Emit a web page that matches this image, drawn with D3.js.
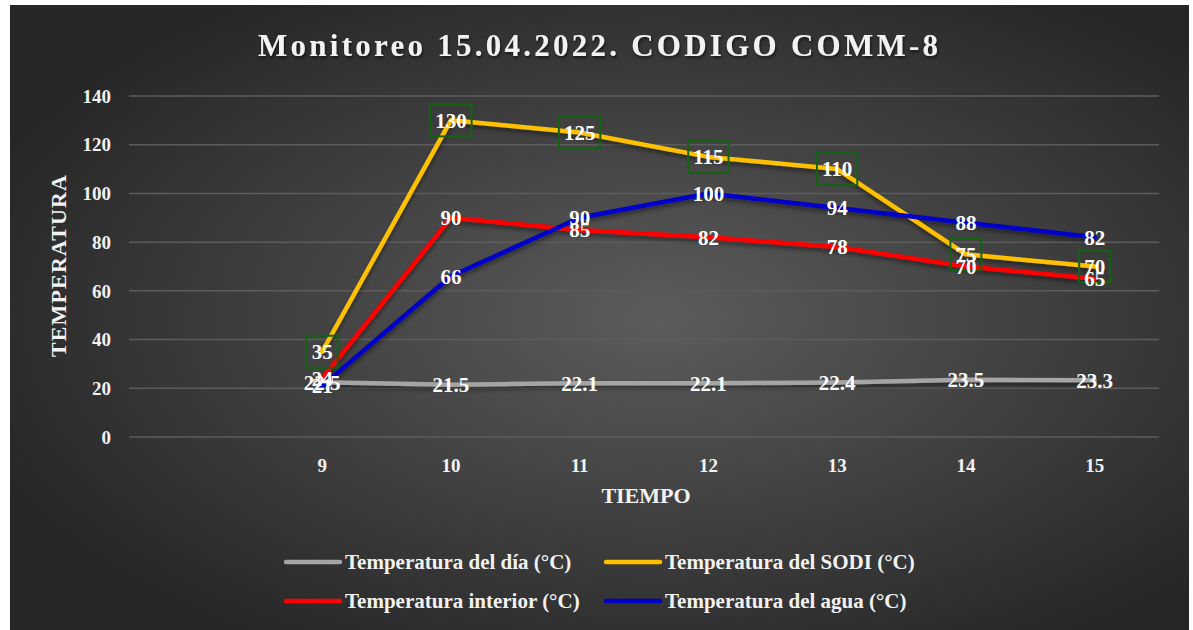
<!DOCTYPE html>
<html>
<head>
<meta charset="utf-8">
<script src="https://cdn.jsdelivr.net/npm/d3@7"></script>
<style>
  html, body { margin: 0; padding: 0; background: #fff; }
  svg text { font-family: "Liberation Serif", "Times New Roman", serif; font-weight: bold; }
</style>
</head>
<body>
<svg id="chart" width="1193" height="630"></svg>
<script>
const categories = ['', '9', '10', '11', '12', '13', '14', '15'];
const tiempo     = ['9', '10', '11', '12', '13', '14', '15'];
const tempDia      = [22.5, 21.5, 22.1, 22.1, 22.4, 23.5, 23.3];
const tempSodi     = [35, 130, 125, 115, 110, 75, 70];
const tempInterior = [24, 90, 85, 82, 78, 70, 65];
const tempAgua     = [21, 66, 90, 100, 94, 88, 82];
const yTicks = [0, 20, 40, 60, 80, 100, 120, 140];

const series = [
  { name: 'Temperatura del día (°C)',    values: tempDia,      color: '#a5a5a5', boxed: false },
  { name: 'Temperatura del SODI (°C)',   values: tempSodi,     color: '#ffc000', boxed: true },
  { name: 'Temperatura interior (°C)',   values: tempInterior, color: '#ff0000', boxed: false },
  { name: 'Temperatura del agua (°C)',   values: tempAgua,     color: '#0000c8', boxed: false },
];

const svg = d3.select('#chart');
const defs = svg.append('defs');

const grad = defs.append('radialGradient').attr('id', 'bg')
  .attr('cx', '55%').attr('cy', '50%').attr('r', '62%');
grad.append('stop').attr('offset', '0%').attr('stop-color', '#5c5c5c');
grad.append('stop').attr('offset', '100%').attr('stop-color', '#262626');

const shadow = defs.append('filter').attr('id', 'shadow')
  .attr('x', '-10%').attr('y', '-10%').attr('width', '120%').attr('height', '130%');
shadow.append('feDropShadow').attr('dx', 0).attr('dy', 3).attr('stdDeviation', 2)
  .attr('flood-color', '#000').attr('flood-opacity', 0.45);

const tshadow = defs.append('filter').attr('id', 'tshadow');
tshadow.append('feDropShadow').attr('dx', 1).attr('dy', 2).attr('stdDeviation', 1.5)
  .attr('flood-color', '#000').attr('flood-opacity', 0.6);

svg.append('rect').attr('x', 10).attr('y', 5).attr('width', 1179).attr('height', 625)
  .attr('fill', 'url(#bg)');

const x = d3.scaleBand().domain(categories).range([129, 1159]);
const cx = c => x(c) + x.bandwidth() / 2;
const y = d3.scaleLinear().domain([0, 140]).range([437, 96]);

// gridlines
svg.append('g').selectAll('line').data(yTicks).join('line')
  .attr('x1', 129).attr('x2', 1159)
  .attr('y1', d => y(d)).attr('y2', d => y(d))
  .attr('stroke', '#5c5c5c').attr('stroke-width', 1.5);

// y tick labels
svg.append('g').selectAll('text').data(yTicks).join('text')
  .attr('x', 111).attr('y', d => y(d)).attr('dy', '0.35em')
  .attr('text-anchor', 'end').attr('font-size', 19).attr('fill', '#f2f2f2')
  .text(d => d);

// x tick labels
svg.append('g').selectAll('text').data(tiempo).join('text')
  .attr('x', d => cx(d)).attr('y', 472)
  .attr('text-anchor', 'middle').attr('font-size', 19).attr('fill', '#f2f2f2')
  .text(d => d);

// title
svg.append('text').attr('x', 598).attr('y', 56)
  .attr('text-anchor', 'middle').attr('font-size', 31).attr('fill', '#f2f2f2')
  .attr('textLength', 680).attr('lengthAdjust', 'spacing')
  .attr('filter', 'url(#tshadow)')
  .text('Monitoreo 15.04.2022. CODIGO COMM-8');

// axis titles
svg.append('text').attr('transform', 'translate(66,266) rotate(-90)')
  .attr('text-anchor', 'middle').attr('font-size', 22).attr('fill', '#f2f2f2')
  .attr('textLength', 182).attr('lengthAdjust', 'spacing')
  .text('TEMPERATURA');
svg.append('text').attr('x', 646).attr('y', 503)
  .attr('text-anchor', 'middle').attr('font-size', 22).attr('fill', '#f2f2f2')
  .text('TIEMPO');

// lines
const line = d3.line().x((d, i) => cx(tiempo[i])).y(d => y(d));
svg.append('g').attr('filter', 'url(#shadow)').selectAll('path').data(series).join('path')
  .attr('d', s => line(s.values))
  .attr('fill', 'none').attr('stroke', s => s.color)
  .attr('stroke-width', 4.5).attr('stroke-linejoin', 'round').attr('stroke-linecap', 'round');

// data labels
const labels = svg.append('g');
series.forEach(s => {
  s.values.forEach((v, i) => {
    const px = cx(tiempo[i]), py = y(v);
    const t = labels.append('text')
      .attr('x', px).attr('y', py).attr('dy', '0.35em')
      .attr('text-anchor', 'middle').attr('font-size', 21).attr('fill', '#ffffff')
      .text(v);
    if (s.boxed) {
      const w = t.node().getComputedTextLength() + 10;
      labels.insert('rect', 'text')
        .attr('x', px - w / 2).attr('y', py - 16).attr('width', w).attr('height', 32)
        .attr('fill', 'none').attr('stroke', '#136313').attr('stroke-width', 2);
    }
  });
});

// legend
const legendPos = [[286, 562], [606, 562], [286, 601], [606, 601]];
const legend = svg.append('g');
series.forEach((s, i) => {
  const [lx, ly] = legendPos[i];
  legend.append('line').attr('x1', lx).attr('x2', lx + 54).attr('y1', ly).attr('y2', ly)
    .attr('stroke', s.color).attr('stroke-width', 4.5).attr('stroke-linecap', 'round');
  legend.append('text').attr('x', lx + 59).attr('y', ly).attr('dy', '0.35em')
    .attr('font-size', 21).attr('fill', '#f2f2f2')
    .text(s.name);
});
</script>
</body>
</html>
